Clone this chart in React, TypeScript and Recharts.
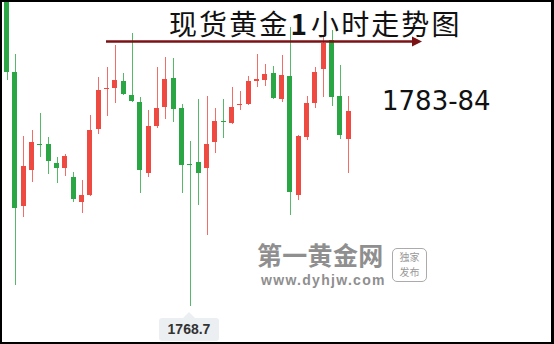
import { ComposedChart, Bar, XAxis, YAxis } from "recharts"

// hourly gold candles (oldest first)
const candleOpen = [
  1799.2, 1792.1, 1778.7, 1782.3, 1784.9, 1784.9, 1783.0, 1782.5, 1781.6, 1779.1,
  1779.8, 1786.4, 1790.4, 1790.5, 1791.2, 1789.8, 1789.1, 1782.0, 1786.7, 1788.6,
  1791.5, 1788.5, 1782.9, 1783.1, 1782.5, 1785.1, 1787.2, 1787.0, 1788.8, 1788.9,
  1791.2, 1791.3, 1792.0, 1789.4, 1791.7, 1779.8, 1785.6, 1789.0, 1792.4, 1795.3,
  1789.7, 1785.4,
]
const candleHigh = [
  1799.3, 1793.9, 1785.7, 1786.3, 1788.0, 1785.6, 1783.6, 1783.9, 1782.1, 1781.3,
  1787.8, 1791.6, 1792.6, 1794.8, 1792.0, 1796.0, 1789.6, 1788.3, 1792.6, 1793.6,
  1793.5, 1788.9, 1785.2, 1789.4, 1789.7, 1788.5, 1789.4, 1790.6, 1790.2, 1791.7,
  1793.9, 1792.9, 1792.7, 1793.8, 1796.6, 1785.8, 1789.7, 1792.6, 1795.8, 1796.3,
  1792.8, 1789.7,
]
const candleLow = [
  1791.3, 1770.8, 1777.6, 1781.1, 1783.6, 1781.9, 1781.0, 1781.7, 1779.1, 1778.0,
  1779.7, 1785.9, 1787.7, 1789.0, 1789.8, 1789.1, 1780.0, 1781.6, 1786.5, 1787.4,
  1787.1, 1780.0, 1768.7, 1778.8, 1775.8, 1784.0, 1785.5, 1786.9, 1788.3, 1788.8,
  1790.6, 1790.7, 1789.4, 1789.1, 1777.8, 1779.3, 1785.3, 1788.5, 1789.6, 1788.7,
  1785.4, 1782.0,
]
const candleClose = [
  1792.1, 1778.5, 1782.7, 1785.1, 1784.8, 1783.2, 1782.5, 1783.7, 1779.4, 1779.8,
  1786.3, 1790.3, 1790.5, 1791.3, 1789.9, 1789.2, 1782.3, 1786.7, 1788.5, 1791.4,
  1788.4, 1782.8, 1782.8, 1782.0, 1784.9, 1787.2, 1787.1, 1788.6, 1788.9, 1791.2,
  1791.4, 1791.9, 1789.5, 1791.8, 1780.1, 1785.7, 1789.0, 1792.1, 1795.0, 1789.6,
  1785.8, 1788.2,
]
const priceDomain = [1764.9, 1799.3]

const TITLE_A = "现货黄金"
const TITLE_NUM = "1"
const TITLE_B = "小时走势图"
const TARGET = "1783-84"
const LOW_LABEL = "1768.7"

const UP = "#ee4a42"
const DOWN = "#2aa744"
const MARK = "#8f8f8f"

const rows = candleOpen.map((o, i) => ({
  t: i,
  open: o,
  high: candleHigh[i],
  low: candleLow[i],
  close: candleClose[i],
  range: [candleLow[i], candleHigh[i]],
}))

function Candle(props: any) {
  const { x, y, width, height, payload } = props
  if (height == null || !payload) return null
  const span = payload.high - payload.low
  const k = span ? height / span : 0
  const py = (v: number) => y + (payload.high - v) * k
  const up = payload.close >= payload.open
  const color = up ? UP : DOWN
  const top = py(Math.max(payload.open, payload.close))
  const bottom = py(Math.min(payload.open, payload.close))
  const cx = Math.round(x + width / 2) + 0.5
  return (
    <g>
      <line x1={cx} x2={cx} y1={y} y2={y + height} stroke={color} strokeOpacity={0.8} strokeWidth={1} />
      <rect x={Math.round(x)} y={top} width={width} height={Math.max(1, bottom - top)} fill={color} />
    </g>
  )
}

export default function App() {
  return (
    <div
      style={{
        position: "absolute",
        left: 0,
        top: 0,
        width: 554,
        height: 344,
        background: "#fff",
        overflow: "hidden",
      }}
    >
      <ComposedChart width={554} height={344} data={rows} margin={{ top: 0, right: 202, bottom: 0, left: 2 }}>
        <XAxis dataKey="t" hide />
        <YAxis hide domain={priceDomain} allowDataOverflow />
        <Bar dataKey="range" barSize={5} shape={<Candle />} isAnimationActive={false} />
      </ComposedChart>

      {/* watermark */}
      <div
        style={{
          position: "absolute",
          left: 257,
          top: 241,
          fontFamily: "'Noto Sans CJK SC'",
          fontWeight: 700,
          fontSize: 25,
          lineHeight: "26px",
          letterSpacing: 0.3,
          color: MARK,
        }}
      >
        第一黄金网
      </div>
      <div
        style={{
          position: "absolute",
          left: 261,
          top: 273,
          fontFamily: "'Liberation Sans'",
          fontWeight: 700,
          fontSize: 14,
          lineHeight: "14px",
          letterSpacing: 1.3,
          color: MARK,
        }}
      >
        www.dyhjw.com
      </div>
      <div
        style={{
          position: "absolute",
          left: 392,
          top: 248,
          width: 35,
          height: 34,
          border: "1.5px solid #ababab",
          borderRadius: 5,
          boxSizing: "border-box",
        }}
      />
      <div
        style={{
          position: "absolute",
          left: 392,
          top: 248,
          width: 35,
          fontFamily: "'Noto Sans CJK SC'",
          fontSize: 10,
          lineHeight: "15px",
          color: "#999",
          textAlign: "center",
          paddingTop: 1,
        }}
      >
        独家
        <br />
        发布
      </div>

      {/* arrow and captions */}
      <svg width={554} height={344} style={{ position: "absolute", left: 0, top: 0 }}>
        <line x1={106} x2={416} y1={41.5} y2={41.5} stroke="#7a1216" strokeWidth={2.5} />
        <polygon points="412,36.5 422,41.5 412,46.5" fill="#7a1216" />
        <polygon points="189,312 183,318 195,318" fill="#eceff1" />
      </svg>
      <div
        style={{
          position: "absolute",
          left: 169,
          top: 9,
          fontFamily: "'Noto Sans CJK SC'",
          fontSize: 28,
          lineHeight: "28px",
          letterSpacing: 2.1,
          color: "#111",
          whiteSpace: "nowrap",
        }}
      >
        {TITLE_A}
        <b style={{ marginLeft: 1, marginRight: 2 }}>{TITLE_NUM}</b>
        {TITLE_B}
      </div>
      <div
        style={{
          position: "absolute",
          left: 382,
          top: 88,
          fontFamily: "'DejaVu Sans'",
          fontSize: 26,
          lineHeight: "26px",
          color: "#111",
        }}
      >
        {TARGET}
      </div>
      <div
        style={{
          position: "absolute",
          left: 159,
          top: 318,
          width: 60,
          height: 23,
          background: "#eceff1",
          borderRadius: 3,
          fontFamily: "'Liberation Sans'",
          fontWeight: 700,
          fontSize: 14,
          lineHeight: "23px",
          color: "#333",
          textAlign: "center",
        }}
      >
        {LOW_LABEL}
      </div>

      {/* frame */}
      <div
        style={{
          position: "absolute",
          inset: 0,
          borderStyle: "solid",
          borderColor: "#000",
          borderWidth: "2px 3px 2px 2px",
          pointerEvents: "none",
        }}
      />
    </div>
  )
}
